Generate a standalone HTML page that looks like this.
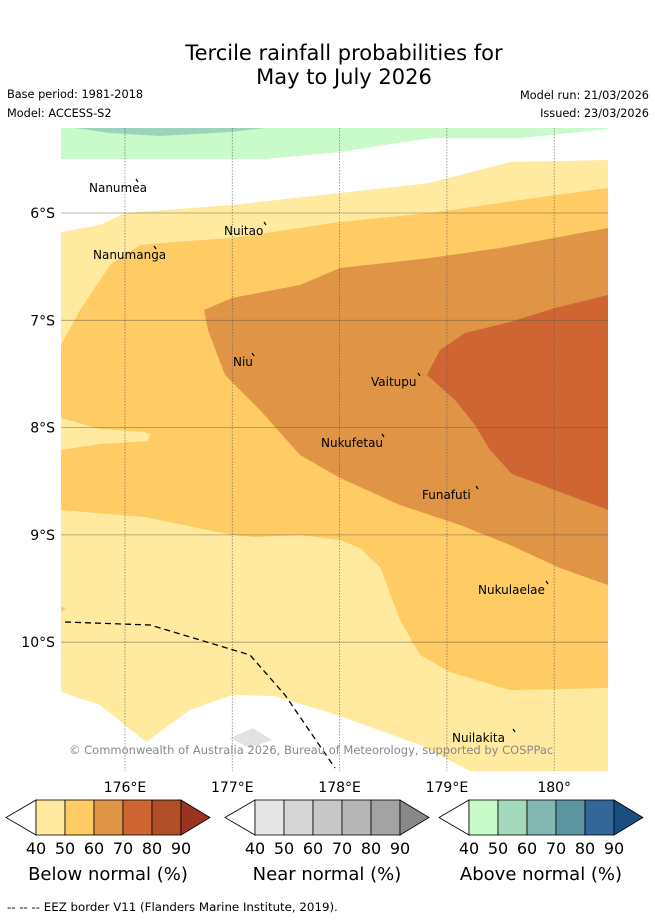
<!DOCTYPE html>
<html><head><meta charset="utf-8"><style>
body{margin:0;background:#fff;width:655px;height:919px;overflow:hidden;font-family:"DejaVu Sans","Liberation Sans",sans-serif}
</style></head><body>
<svg id="chart" width="655" height="919" xmlns="http://www.w3.org/2000/svg" font-family="DejaVu Sans, Liberation Sans, sans-serif">
<text x="344" y="60" font-size="21" text-anchor="middle">Tercile rainfall probabilities for</text>
<text x="344" y="84" font-size="21" text-anchor="middle">May to July 2026</text>
<text x="7" y="98" font-size="11.3">Base period: 1981-2018</text>
<text x="7" y="117" font-size="11.3">Model: ACCESS-S2</text>
<text x="649" y="99" font-size="11.3" text-anchor="end">Model run: 21/03/2026</text>
<text x="649" y="117" font-size="11.3" text-anchor="end">Issued: 23/03/2026</text>
<g id="map"></g>
<g id="bars"></g>
<text x="7" y="911" font-size="11.8">--  --  -- EEZ border V11 (Flanders Marine Institute, 2019).</text>
</svg>
<script>
const lonTicks=[176,177,178,179,180];
const lonLabels=['176°E','177°E','178°E','179°E','180°'];
const latTicks=[6,7,8,9,10];
const latLabels=['6°S','7°S','8°S','9°S','10°S'];
const cbTicks=['40','50','60','70','80','90'];
const belowColors=['#FFEAA0','#FECB64','#E09445','#CE6532','#B04E27','#9A3320'];
const nearColors=['#E5E5E5','#D6D6D6','#C8C8C8','#B7B7B7','#A3A3A3','#888888'];
const aboveColors=['#C8FACA','#A5D9BC','#82B8B1','#5A95A0','#336699','#1A4D80'];
const cbTitles=['Below normal (%)','Near normal (%)','Above normal (%)'];
const islands=[['Nanumea',89,192],['Nanumanga',93,259],['Nuitao',224,235],['Niu',233,366],['Vaitupu',371,386],['Nukufetau',321,447],['Funafuti',422,499],['Nukulaelae',478,594],['Nuilakita',452,742]];
const NS='http://www.w3.org/2000/svg';
const X0=61,X1=608,Y0=128,Y1=771;
const xs=lon=>125+(lon-176)*107.3;
const ys=lat=>213+(lat-6)*107.3;
function mk(tag,attrs,parent){const e=document.createElementNS(NS,tag);for(const k in attrs)e.setAttribute(k,attrs[k]);parent.appendChild(e);return e;}
const map=document.getElementById('map');
const shapes=[
 ['green-band','#C8FACA','61,128 608,128 608,129 520,138 430,138 340,152 265,159 61,159'],
 ['green-dark-patch','#9DD3BB','75,128 265,128 230,132 160,136 110,133'],
 ['below-40-50','#FFEAA0','61,232 100,225 125,213 232,205 340,193 430,183 510,162 608,160 608,771 470,771 420,745 340,716 275,696 232,695 190,710 146,742 100,705 61,692'],
 ['below-50-60','#FECB64','61,345 80,310 110,265 140,245 175,242 232,238 340,222 430,213 520,200 608,188 608,688 510,690 450,672 420,655 400,620 380,567 360,548 340,540 300,535 255,537 232,535 145,517 61,510 61,450 100,444 148,441 150,434 145,432 100,429 61,418'],
 ['below-50-60-patch','#FECB64','61,606 66,609 61,612'],
 ['below-60-70','#E09445','204,310 232,298 300,285 340,268 430,258 500,248 608,228 608,585 560,568 510,545 460,525 400,505 340,478 300,455 260,410 225,375 208,330'],
 ['below-70-80','#CE6532','427,375 440,350 465,333 510,322 555,308 608,295 608,510 560,492 512,474 490,450 475,425 455,400'],
 ['land-patch','#E2E2E2','230,738 253,728 272,740 250,748']
];
shapes.forEach(s=>{const p=mk('polygon',{points:s[2],fill:s[1]},map);});
lonTicks.forEach((l,i)=>{const x=xs(l);
 const g=mk('line',{x1:x,x2:x,y1:Y0,y2:Y1,stroke:'#555','stroke-width':0.8,'stroke-dasharray':'1.5,1.5','stroke-opacity':0.7},map);
 
 const t=mk('text',{x:x,y:792,'font-size':14,'text-anchor':'middle'},map);t.textContent=lonLabels[i];
 });
latTicks.forEach((l,i)=>{const y=ys(l);
 const g=mk('line',{x1:X0,x2:X1,y1:y,y2:y,stroke:'#6a5a40','stroke-width':0.8,'stroke-opacity':0.6},map);
 
 const t=mk('text',{x:55,y:y+5,'font-size':14,'text-anchor':'end'},map);t.textContent=latLabels[i];
 });
const eez=mk('polyline',{points:'65,622 150,625 250,655 285,695 335,768',fill:'none',stroke:'#000','stroke-width':1.3,'stroke-dasharray':'6,4'},map);

islands.forEach(d=>{const t=mk('text',{x:d[1],y:d[2],'font-size':12},map);t.textContent=d[0];
 
 const w=d[0].length*7;const m=mk('line',{x1:d[1]+w-2,y1:d[2]-13,x2:d[1]+w,y2:d[2]-10,stroke:'#000','stroke-width':1.2},map);
 });
const cp=mk('text',{x:69,y:754,'font-size':11.5,fill:'#888'},map);cp.textContent='© Commonwealth of Australia 2026, Bureau of Meteorology, supported by COSPPac';

const bars=document.getElementById('bars');
[[6,belowColors],[225,nearColors],[439,aboveColors]].forEach((b,bi)=>{
 const tip=b[0],bx=tip+30,bw=29,top=800,bot=835,mid=817.5;
 const l=mk('polygon',{points:`${tip},${mid} ${bx},${top} ${bx},${bot}`,fill:'#fff',stroke:'#000','stroke-width':0.8},bars);
 
 for(let i=0;i<5;i++){const r=mk('rect',{x:bx+i*bw,y:top,width:bw,height:bot-top,fill:b[1][i],stroke:'#000','stroke-width':0.8},bars);
  }
 const ex=bx+5*bw;
 const r=mk('polygon',{points:`${ex},${top} ${ex+29},${mid} ${ex},${bot}`,fill:b[1][5],stroke:'#000','stroke-width':0.8},bars);
 
 cbTicks.forEach((t,i)=>{const e=mk('text',{x:bx+i*bw,y:854,'font-size':16,'text-anchor':'middle'},bars);e.textContent=t;
  });
 const tt=mk('text',{x:bx+72,y:880,'font-size':18,'text-anchor':'middle'},bars);tt.textContent=cbTitles[bi];
 
});
</script>
</body></html>
